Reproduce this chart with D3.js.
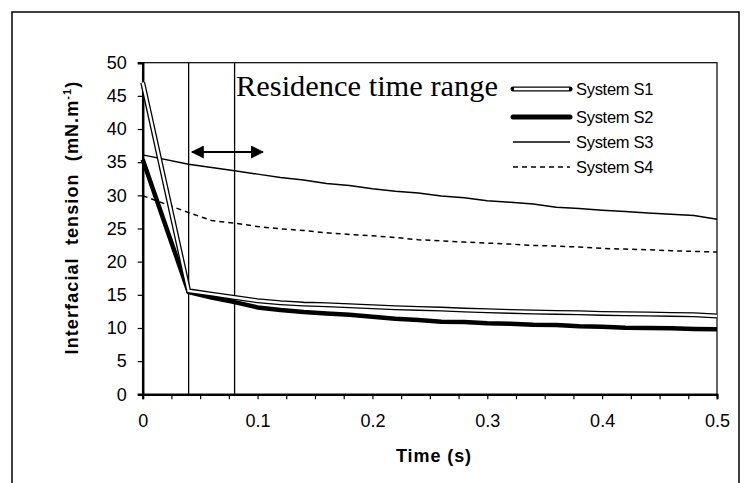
<!DOCTYPE html>
<html><head><meta charset="utf-8">
<script src="https://cdn.jsdelivr.net/npm/d3@7"></script>
<style>body{margin:0;background:#fff}svg{display:block}</style>
</head><body>
<svg id="c" width="744" height="483"></svg>
<script>
const times = [0,0.04,0.06,0.08,0.10,0.12,0.14,0.16,0.18,0.20,0.22,0.24,0.26,0.28,0.30,0.32,0.34,0.36,0.38,0.40,0.42,0.44,0.46,0.48,0.50];
const systemS1 = [47,15.6,15.1,14.6,14.1,13.8,13.6,13.5,13.35,13.2,13.05,12.95,12.85,12.7,12.6,12.5,12.4,12.35,12.3,12.2,12.15,12.1,12.05,12.0,11.8];
const systemS2 = [35.4,15.4,14.6,13.9,13.1,12.7,12.4,12.2,12.0,11.7,11.4,11.2,10.95,10.9,10.7,10.65,10.5,10.45,10.25,10.2,10.05,10.0,9.95,9.85,9.8];
const systemS3 = [36.1,34.7,34.2,33.7,33.2,32.7,32.3,31.8,31.5,31.0,30.6,30.35,29.9,29.65,29.2,28.95,28.7,28.2,28.0,27.75,27.55,27.35,27.15,26.95,26.4];
const systemS4 = [29.95,27.4,26.2,25.8,25.3,24.95,24.7,24.35,24.1,23.9,23.65,23.3,23.15,22.95,22.8,22.65,22.45,22.35,22.2,22.0,21.9,21.8,21.65,21.55,21.45];
const seriesNames = ["System S1","System S2","System S3","System S4"];
const xTickLabels = [0,0.1,0.2,0.3,0.4,0.5];
const yTickLabels = [0,5,10,15,20,25,30,35,40,45,50];
const rangeMarks = [0.04,0.08];
const annotation = "Residence time range";

const svg = d3.select("#c");
const L=142.7, R=717, T=62.7, B=394.3;
const x = d3.scaleLinear().domain([0,0.5]).range([L,R]);
const y = d3.scaleLinear().domain([0,50]).range([B,T]);

// outer border
svg.append("rect").attr("x",12).attr("y",12).attr("width",727).attr("height",500)
  .attr("fill","none").attr("stroke","#000").attr("stroke-width",1.5);

// plot frame
svg.append("rect").attr("x",L).attr("y",T).attr("width",R-L).attr("height",B-T)
  .attr("fill","none").attr("stroke","#000").attr("stroke-width",1.2);

// axes
const yAxis = d3.axisLeft(y).tickValues(yTickLabels).tickSize(5).tickPadding(11).tickFormat(d3.format("d"));
const gy = svg.append("g").attr("transform",`translate(${L},0)`).call(yAxis);
gy.select(".domain").attr("stroke-width",2.5);
gy.selectAll("line").attr("stroke-width",1.2);
gy.selectAll("text").attr("font-family","Liberation Sans, Arial, sans-serif").attr("font-size",18).attr("fill","#000");

const xMinor = d3.range(0,0.5001,0.025);
const xAxis = d3.axisBottom(x).tickValues(xMinor).tickSize(5).tickPadding(15)
  .tickFormat(d => xTickLabels.some(v=>Math.abs(v-d)<1e-9) ? d3.format(".1~f")(d) : "");
const gx = svg.append("g").attr("transform",`translate(0,${B})`).call(xAxis);
gx.select(".domain").attr("stroke-width",2.2);
gx.selectAll("line").attr("stroke-width",1.2);
gx.selectAll("text").attr("font-family","Liberation Sans, Arial, sans-serif").attr("font-size",18).attr("fill","#000");

// axis titles
svg.append("text").attr("x",434).attr("y",462).attr("text-anchor","middle")
  .attr("font-family","Liberation Sans, Arial, sans-serif").attr("font-weight","bold").attr("font-size",18)
  .attr("letter-spacing",0.9).text("Time (s)");
const yt = svg.append("text").attr("transform",`translate(78,${(T+B)/2-11}) rotate(-90)`).attr("text-anchor","middle")
  .attr("font-family","Liberation Sans, Arial, sans-serif").attr("font-weight","bold").attr("font-size",18)
  .attr("letter-spacing",1.1).attr("xml:space","preserve");
yt.append("tspan").text("Interfacial  tension  (mN.m");
yt.append("tspan").attr("font-size",11).attr("dy",-7).text("-1");
yt.append("tspan").attr("dy",7).text(")");

// range vertical lines
svg.selectAll(".vl").data(rangeMarks).join("line")
  .attr("x1",d=>x(d)).attr("x2",d=>x(d)).attr("y1",T).attr("y2",B)
  .attr("stroke","#000").attr("stroke-width",1.3);

// double arrow
const defs = svg.append("defs");
defs.append("marker").attr("id","ah").attr("viewBox","0 0 10 10").attr("refX",9).attr("refY",5)
  .attr("markerWidth",16).attr("markerHeight",13).attr("markerUnits","userSpaceOnUse").attr("orient","auto-start-reverse")
  .append("path").attr("d","M0,0L10,5L0,10Z").attr("fill","#000");
svg.append("line").attr("x1",x(0.043)).attr("x2",x(0.1045)).attr("y1",152).attr("y2",152)
  .attr("stroke","#000").attr("stroke-width",2)
  .attr("marker-start","url(#ah)").attr("marker-end","url(#ah)");

// annotation
svg.append("text").attr("x",236).attr("y",96).attr("font-family","Liberation Serif, Times New Roman, serif")
  .attr("font-size",30).attr("textLength",262).attr("lengthAdjust","spacingAndGlyphs").text(annotation);

// lines
const line = d3.line().x((d,i)=>x(times[i])).y(d=>y(d));
svg.append("path").attr("d",line(systemS4)).attr("fill","none").attr("stroke","#000").attr("stroke-width",1.5).attr("stroke-dasharray","5,4");
svg.append("path").attr("d",line(systemS3)).attr("fill","none").attr("stroke","#000").attr("stroke-width",1.5);
svg.append("path").attr("d",line(systemS2)).attr("fill","none").attr("stroke","#000").attr("stroke-width",4.5).attr("stroke-linejoin","round");
svg.append("path").attr("d",line(systemS1)).attr("fill","none").attr("stroke","#000").attr("stroke-width",5);
svg.append("path").attr("d",line(systemS1)).attr("fill","none").attr("stroke","#fff").attr("stroke-width",2.4);

// legend
const legY = [89,117,142,167];
const lg = svg.append("g");
const styles = [
  {w:5, inner:2.4, dash:null},
  {w:5, inner:0, dash:null},
  {w:1.5, inner:0, dash:null},
  {w:1.5, inner:0, dash:"5,4"}
];
seriesNames.forEach((n,i)=>{
  const s = styles[i];
  const l = lg.append("line").attr("x1",513).attr("x2",570).attr("y1",legY[i]).attr("y2",legY[i])
    .attr("stroke","#000").attr("stroke-width",s.w).attr("stroke-linecap", i<2?"round":"butt");
  if(s.dash) l.attr("stroke-dasharray",s.dash);
  if(s.inner) lg.append("line").attr("x1",514).attr("x2",569).attr("y1",legY[i]).attr("y2",legY[i])
    .attr("stroke","#fff").attr("stroke-width",s.inner);
  lg.append("text").attr("x",576).attr("y",legY[i]+6).attr("font-family","Liberation Sans, Arial, sans-serif")
    .attr("font-size",16.5).attr("letter-spacing",-0.3).text(n);
});
</script>
</body></html>
